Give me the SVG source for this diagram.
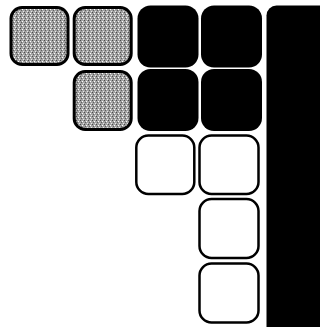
<svg xmlns="http://www.w3.org/2000/svg" width="320" height="327" viewBox="0 0 320 327">
<defs>
<pattern id="tex" width="4" height="4" patternUnits="userSpaceOnUse">
<rect width="4" height="4" fill="#a2a2a2"/>
<rect x="0" y="0" width="1" height="1" fill="#4a4a4a"/>
<rect x="2" y="1" width="1" height="1" fill="#ffffff"/>
<rect x="1" y="2" width="1" height="1" fill="#5e5e5e"/>
<rect x="3" y="3" width="1" height="1" fill="#e8e8e8"/>
</pattern>
</defs>
<style>
.gray{fill:url(#tex);stroke:#000;stroke-width:3}
.black{fill:#000}
.white{fill:#fff;stroke:#000;stroke-width:2.5}
</style>
<rect width="320" height="327" fill="#fff"/>
<g id="g1"><rect class="gray" x="11" y="7.5" width="57" height="57" rx="11"/></g>
<g id="g2"><rect class="gray" x="74.2" y="7.5" width="57" height="57" rx="11"/></g>
<g id="g3"><rect class="gray" x="74.2" y="71.5" width="57" height="58" rx="11"/></g>
<g id="b1"><rect class="black" x="137.5" y="5.5" width="61" height="62" rx="13"/></g>
<g id="b2"><rect class="black" x="201" y="5.5" width="61" height="62" rx="13"/></g>
<g id="b3"><rect class="black" x="137.5" y="69" width="61" height="62" rx="13"/></g>
<g id="b4"><rect class="black" x="201" y="69" width="61" height="62" rx="13"/></g>
<g id="w1"><rect class="white" x="136.3" y="135.5" width="58" height="58.5" rx="12"/></g>
<g id="w2"><rect class="white" x="199.5" y="135.5" width="59" height="58.5" rx="12"/></g>
<g id="w3"><rect class="white" x="199.5" y="199" width="59" height="59" rx="12"/></g>
<g id="w4"><rect class="white" x="199.5" y="263.5" width="59" height="59" rx="12"/></g>
<g id="bar"><rect class="black" x="266.5" y="5.5" width="70" height="340" rx="10"/></g>
<g id="connectors"></g>
</svg>
